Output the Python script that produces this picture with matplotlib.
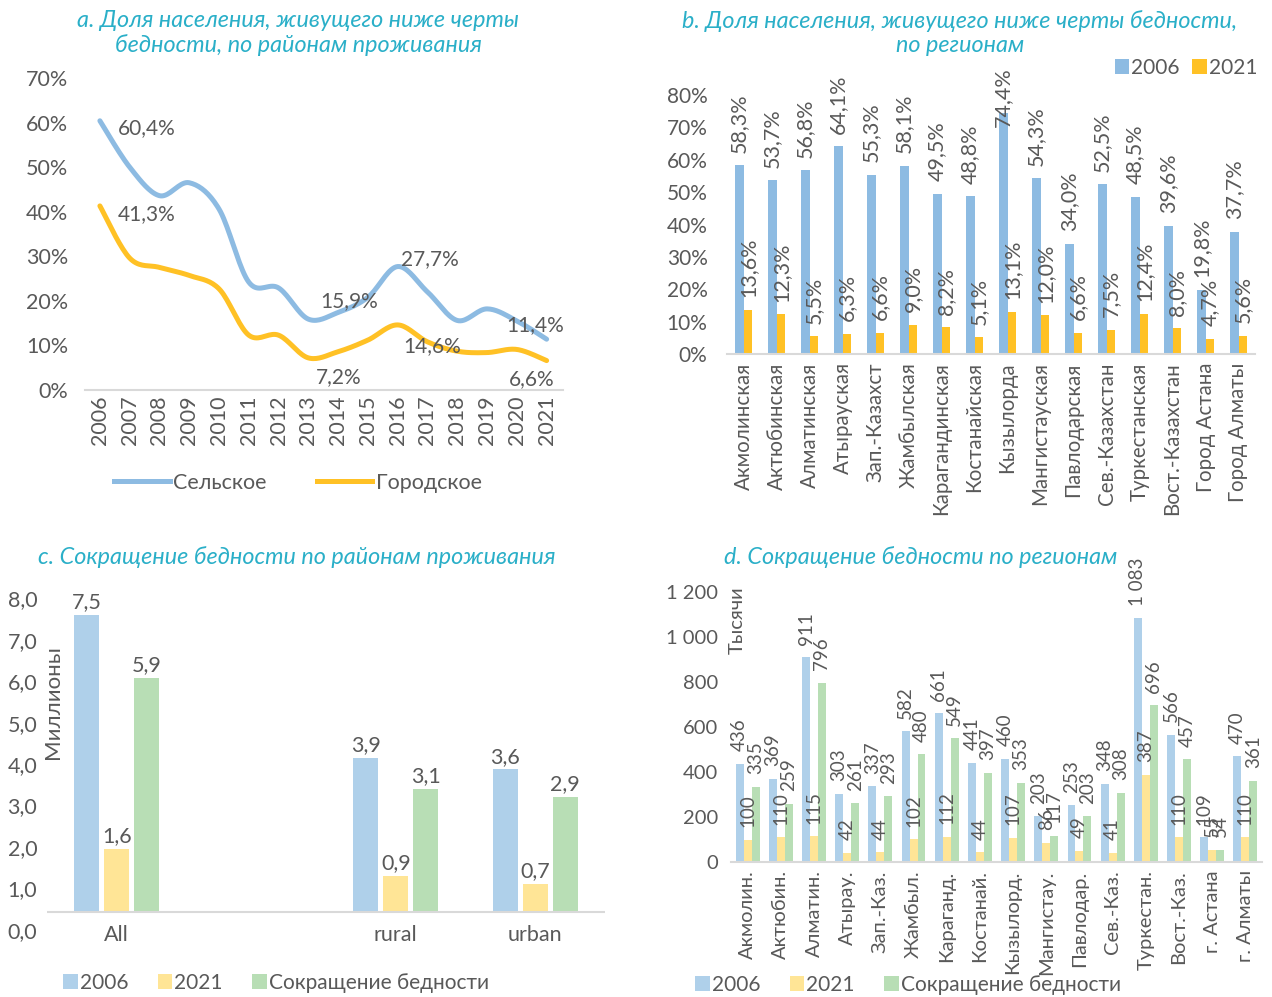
import numpy as np
import matplotlib
matplotlib.use("Agg")
import matplotlib.pyplot as plt
from matplotlib.lines import Line2D

plt.rcParams['font.family'] = ['Lato', 'DejaVu Sans']

# ---- data ----
years = list(range(2006, 2022))
rural = [60.4, 50.0, 43.6, 46.5, 40.6, 24.2, 22.9, 15.9, 17.4, 20.8, 27.7, 22.0, 15.6, 18.2, 15.5, 11.4]
urban = [41.3, 29.6, 27.5, 25.7, 22.7, 12.3, 12.3, 7.2, 8.6, 11.2, 14.6, 10.8, 8.7, 8.4, 9.1, 6.6]

regions_full = ['Акмолинская', 'Актюбинская', 'Алматинская', 'Атырауская', 'Зап.-Казахст',
                'Жамбылская', 'Карагандинская', 'Костанайская', 'Кызылорда', 'Мангистауская',
                'Павлодарская', 'Сев.-Казахстан', 'Туркестанская', 'Вост.-Казахстан',
                'Город Астана', 'Город Алматы']
share_2006 = [58.3, 53.7, 56.8, 64.1, 55.3, 58.1, 49.5, 48.8, 74.4, 54.3, 34.0, 52.5, 48.5, 39.6, 19.8, 37.7]
share_2021 = [13.6, 12.3, 5.5, 6.3, 6.6, 9.0, 8.2, 5.1, 13.1, 12.0, 6.6, 7.5, 12.4, 8.0, 4.7, 5.6]

areas = ['All', '', 'rural', 'urban']
mln_2006 = [7.5, np.nan, 3.9, 3.6]
mln_2021 = [1.6, np.nan, 0.9, 0.7]
mln_cut = [5.9, np.nan, 3.1, 2.9]

regions_short = ['Акмолин.', 'Актюбин.', 'Алматин.', 'Атырау.', 'Зап.-Каз.', 'Жамбыл.',
                 'Караганд.', 'Костанай.', 'Кызылорд.', 'Мангистау.', 'Павлодар.', 'Сев.-Каз.',
                 'Туркестан.', 'Вост.-Каз.', 'г. Астана', 'г. Алматы']
th_2006 = [436, 369, 911, 303, 337, 582, 661, 441, 460, 203, 253, 348, 1083, 566, 109, 470]
th_2021 = [100, 110, 115, 42, 44, 102, 112, 44, 107, 86, 49, 41, 387, 110, 55, 110]
th_cut = [335, 259, 796, 261, 293, 480, 549, 397, 353, 117, 203, 308, 696, 457, 54, 361]

# ---- styles ----
TXT = '#595959'
TITLE = '#2AAFC8'
GRID = '#D9D9D9'
BLUE, ORANGE = '#8DBBE2', '#FFC125'
LBLUE, LYELLOW, LGREEN = '#AFD0EA', '#FFE596', '#B8DEB5'

W, H = 1272, 997
fig = plt.figure(figsize=(W / 100, H / 100), dpi=100)


def box(left, top, right, bottom):
    return [left / W, 1 - bottom / H, (right - left) / W, (bottom - top) / H]


def comma(v, fmt='{:.1f}'):
    return fmt.format(v).replace('.', ',')


def smooth(x, y, n=20):
    # Excel-like smoothed line (Catmull-Rom as cubic Bezier)
    p = np.column_stack([np.asarray(x, float), np.asarray(y, float)])
    out = []
    t = np.linspace(0, 1, n)[:, None]
    for i in range(len(p) - 1):
        p0 = p[max(i - 1, 0)]
        p1, p2 = p[i], p[i + 1]
        p3 = p[min(i + 2, len(p) - 1)]
        c1 = p1 + (p2 - p0) / 6
        c2 = p2 - (p3 - p1) / 6
        seg = ((1 - t) ** 3) * p1 + 3 * ((1 - t) ** 2) * t * c1 + 3 * (1 - t) * t ** 2 * c2 + t ** 3 * p2
        out.append(seg if i == 0 else seg[1:])
    out = np.vstack(out)
    return out[:, 0], out[:, 1]


def clean(ax):
    for s in ['top', 'right', 'left']:
        ax.spines[s].set_visible(False)
    ax.spines['bottom'].set_color(GRID)
    ax.spines['bottom'].set_linewidth(1.5)
    ax.tick_params(length=0, colors=TXT)


# ---- a. lines ----
ax = fig.add_axes(box(85, 78, 563, 390))
xi = np.arange(len(years))
sx, sy = smooth(xi, rural)
ax.plot(sx, sy, color=BLUE, lw=3.6, solid_capstyle='round')
sx, sy = smooth(xi, urban)
ax.plot(sx, sy, color=ORANGE, lw=3.6, solid_capstyle='round')
ax.set_xlim(-0.5, len(years) - 0.45)
ax.set_ylim(0, 70)
ax.set_yticks(range(0, 71, 10))
ax.set_yticklabels([f'{v}%' for v in range(0, 71, 10)], fontsize=15.5)
ax.set_xticks(xi)
ax.set_xticklabels([str(y) for y in years], rotation=90, fontsize=15.5)
ax.tick_params(axis='y', pad=12)
ax.tick_params(axis='x', pad=4)
clean(ax)
labels_a = [(rural, 0, (34, -5)), (urban, 0, (34, -6)), (rural, 7, (29, 13)), (urban, 7, (22, -14)),
            (rural, 10, (23, 5)), (urban, 10, (25, -15)), (rural, 15, (-8, 10)), (urban, 15, (-11, -13))]
for series, i, off in labels_a:
    ax.annotate(comma(series[i]) + '%', (xi[i], series[i]), xytext=off, textcoords='offset points',
                ha='center', va='center', fontsize=15, color=TXT)
fig.text(298 / W, 1 - 33 / H, 'a. Доля населения, живущего ниже черты\nбедности, по районам проживания',
         ha='center', va='center', fontsize=16.8, style='italic', color=TITLE, linespacing=1.15)
ax.legend([Line2D([], [], color=BLUE, lw=3.6), Line2D([], [], color=ORANGE, lw=3.6)],
          ['Сельское', 'Городское'], loc='center', bbox_to_anchor=(298 / W, 1 - 483 / H),
          bbox_transform=fig.transFigure, ncol=2, frameon=False, fontsize=15.5,
          handlelength=2.6, handletextpad=0.15, columnspacing=2.3, labelcolor=TXT)

# ---- b. bars by region ----
ax = fig.add_axes(box(727, 95, 1255, 354))
xb = np.arange(len(regions_full))
bw = 0.27
ax.bar(xb - bw / 2, share_2006, bw, color=BLUE, label='2006')
ax.bar(xb + bw / 2, share_2021, bw, color=ORANGE, label='2021')
for i in xb:
    # labels that would run past the chart top are pushed down onto the bar, like Excel does
    dy = 9 if share_2006[i] < 70 else -10
    ax.annotate(comma(share_2006[i]) + '%', (i - bw / 2, share_2006[i]), xytext=(0, dy),
                textcoords='offset points', rotation=90, ha='center', va='bottom', fontsize=15.5, color=TXT)
    ax.annotate(comma(share_2021[i]) + '%', (i + bw / 2, share_2021[i]), xytext=(0, 9),
                textcoords='offset points', rotation=90, ha='center', va='bottom', fontsize=15.5, color=TXT)
ax.set_xlim(-0.5, len(regions_full) - 0.5)
ax.set_ylim(0, 80)
ax.set_yticks(range(0, 81, 10))
ax.set_yticklabels([f'{v}%' for v in range(0, 81, 10)], fontsize=15)
ax.set_xticks(xb)
ax.set_xticklabels(regions_full, rotation=90, fontsize=14.8)
ax.tick_params(axis='y', pad=14)
ax.tick_params(axis='x', pad=6)
clean(ax)
fig.text(960 / W, 1 - 33 / H, 'b. Доля населения, живущего ниже черты бедности,\nпо регионам',
         ha='center', va='center', fontsize=16.8, style='italic', color=TITLE, linespacing=1.15)
ax.legend(loc='center', bbox_to_anchor=(1186 / W, 1 - 68 / H), bbox_transform=fig.transFigure,
          ncol=2, frameon=False, fontsize=15, handlelength=0.7, handleheight=0.7,
          handletextpad=0.1, columnspacing=0.6, labelcolor=TXT)

# ---- c. reduction by area ----
ax = fig.add_axes(box(47, 590, 605, 935))
xc = np.arange(len(areas))
cw, co = 0.18, 0.215
ax.bar(xc - co, mln_2006, cw, color=LBLUE, label='2006')
ax.bar(xc, mln_2021, cw, color=LYELLOW, label='2021')
ax.bar(xc + co, mln_cut, cw, color=LGREEN, label='Сокращение бедности')
for vals, dx in [(mln_2006, -co), (mln_2021, 0), (mln_cut, co)]:
    for i, v in enumerate(vals):
        if np.isnan(v):
            continue
        ax.annotate(comma(v), (i + dx, v), xytext=(0, 2), textcoords='offset points',
                    ha='center', va='bottom', fontsize=15.5, color=TXT)
ax.set_xlim(-0.5, len(areas) - 0.5)
ax.set_ylim(-(935 - 912) / 39.6, (912 - 590) / 39.6)
ax.axhline(0, color=GRID, lw=1.5)
ax.set_yticks([])
ax.set_xticks(xc)
ax.set_xticklabels(areas, fontsize=15.5)
for s in ax.spines.values():
    s.set_visible(False)
ax.tick_params(length=0, colors=TXT, pad=-7)
# value axis drawn as a separate scale on the left
axt = ax.twinx()
axt.yaxis.tick_left()
axt.set_ylim((929.6 - 935) / 41.4, (929.6 - 590) / 41.4)
axt.set_yticks(range(0, 9))
axt.set_yticklabels([comma(v) for v in range(0, 9)], fontsize=15.5)
for s in axt.spines.values():
    s.set_visible(False)
axt.tick_params(length=0, colors=TXT, pad=7)
fig.text(53 / W, 1 - 702 / H, 'Миллионы', rotation=90, ha='center', va='center', fontsize=16, color=TXT)
fig.text(297 / W, 1 - 557 / H, 'c. Сокращение бедности по районам проживания',
         ha='center', va='center', fontsize=16.8, style='italic', color=TITLE)
ax.legend(loc='center', bbox_to_anchor=(276 / W, 1 - 983 / H), bbox_transform=fig.transFigure,
          ncol=3, frameon=False, fontsize=15, handlelength=0.7, handleheight=0.7,
          handletextpad=0.1, columnspacing=1.4, labelcolor=TXT)

# ---- d. reduction by region ----
ax = fig.add_axes(box(731, 592, 1262, 862))
xd = np.arange(len(regions_short))
dw = 0.24
ax.bar(xd - dw, th_2006, dw, color=LBLUE, label='2006')
ax.bar(xd, th_2021, dw, color=LYELLOW, label='2021')
ax.bar(xd + dw, th_cut, dw, color=LGREEN, label='Сокращение бедности')
for vals, dx in [(th_2006, -dw), (th_2021, 0), (th_cut, dw)]:
    for i, v in enumerate(vals):
        ax.annotate(f'{v:,}'.replace(',', ' '), (i + dx, v), xytext=(0, 9), textcoords='offset points',
                    rotation=90, ha='center', va='bottom', fontsize=13.5, color=TXT)
ax.set_xlim(-0.5, len(regions_short) - 0.5)
ax.set_ylim(0, 1200)
ax.set_yticks(range(0, 1201, 200))
ax.set_yticklabels([f'{v:,}'.replace(',', ' ') for v in range(0, 1201, 200)], fontsize=14.5)
ax.set_xticks(xd)
ax.set_xticklabels(regions_short, rotation=90, fontsize=14.5)
ax.tick_params(axis='y', pad=9)
ax.tick_params(axis='x', pad=6)
clean(ax)
fig.text(737 / W, 1 - 620 / H, 'Тысячи', rotation=90, ha='center', va='center', fontsize=14.5, color=TXT)
fig.text(921 / W, 1 - 557 / H, 'd. Сокращение бедности по регионам',
         ha='center', va='center', fontsize=16.8, style='italic', color=TITLE)
ax.legend(loc='center', bbox_to_anchor=(908 / W, 1 - 985 / H), bbox_transform=fig.transFigure,
          ncol=3, frameon=False, fontsize=15, handlelength=0.7, handleheight=0.7,
          handletextpad=0.1, columnspacing=1.4, labelcolor=TXT)

fig.savefig('out.png', dpi=100)
